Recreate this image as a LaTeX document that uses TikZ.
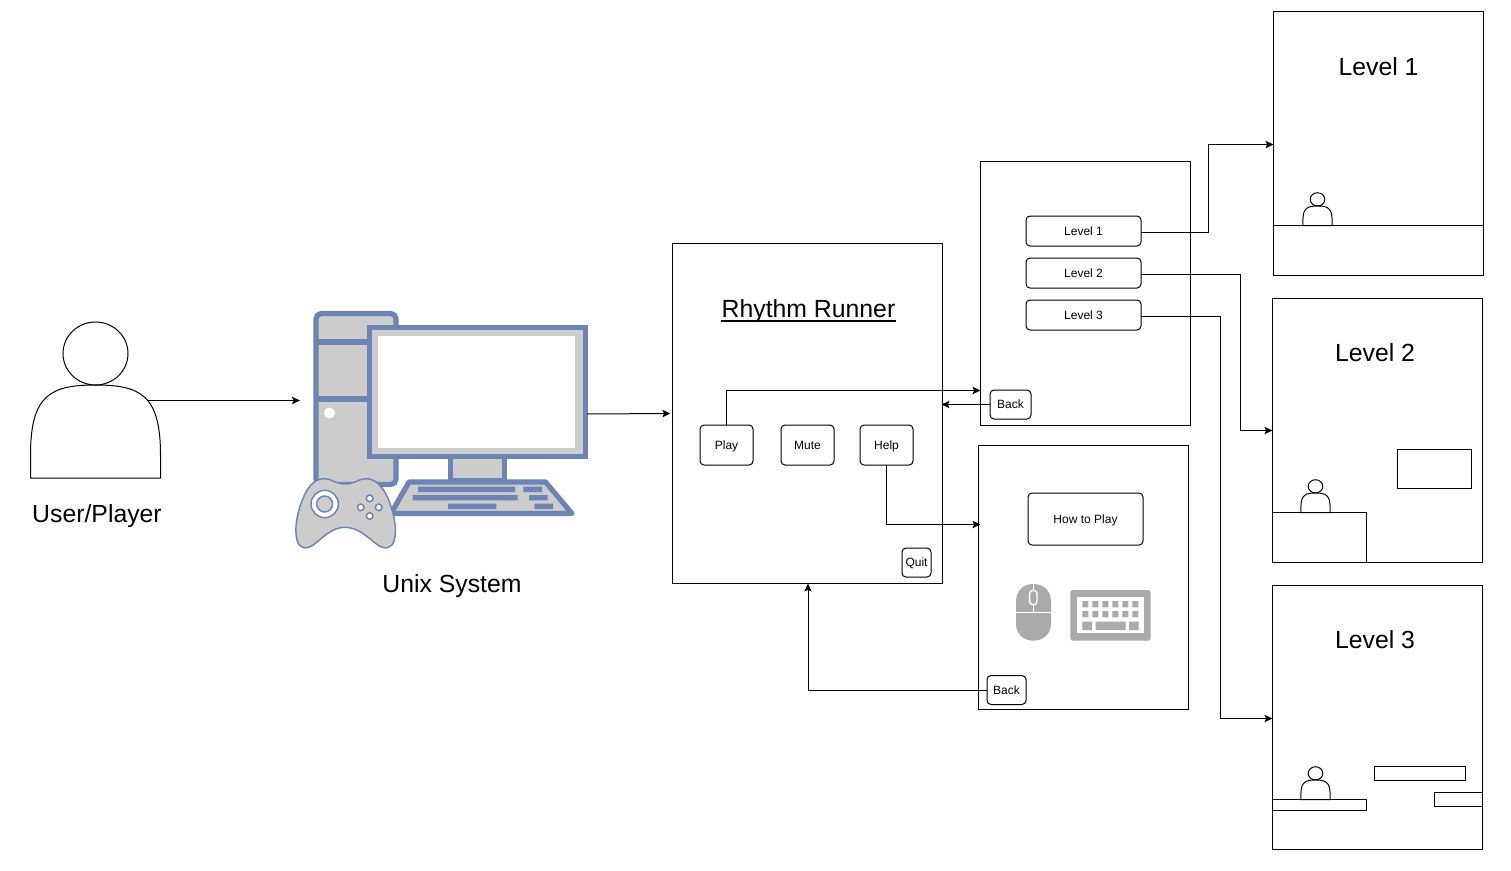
\documentclass[tikz,border=0pt]{standalone}
\usepackage{fontspec}
\setmainfont{Liberation Sans}
\usetikzlibrary{arrows.meta,calc}
\definecolor{iconblue}{HTML}{6C85B5}
\definecolor{iconfill}{HTML}{CCCCCC}
\definecolor{icongray}{HTML}{AAAAAA}
\newcommand{\boxat}[6][panel]{\node[#1,minimum width=#4*0.75pt-0.75pt,minimum height=#5*0.75pt-0.75pt] (#2) at (#3) {#6};}
\newcommand{\playerfig}[4]{%
  \begin{scope}[shift={(#1,#2)},x=#3*0.75pt,y=-#4*0.75pt]
    \draw[line] (-65,0) -- (-65,-23) .. controls (-65,-83) and (-45,-93) .. (0,-93)
      .. controls (45,-93) and (65,-83) .. (65,-23) -- (65,0) -- cycle;
    \draw[line] (0,-124.5) ellipse [x radius=32.5,y radius=31.5];
  \end{scope}}
\tikzset{
  x=0.75pt,y=-0.75pt,
  line/.style={draw=black,line width=0.75pt},
  panel/.style={line,fill=white,inner sep=0pt,outer sep=0pt,rectangle},
  btn/.style={panel,rounded corners=3pt,font=\fontsize{9}{11}\selectfont,text height=6.5pt,text depth=0pt},
  big/.style={font=\fontsize{18.6}{22}\selectfont,inner sep=0pt},
  conn/.style={line,-{Stealth[length=6pt,width=5.5pt,inset=1.2pt]}},
  iconline/.style={draw=iconblue,line width=3.9pt,fill=iconfill},
  iconkey/.style={fill=iconblue},
  graykey/.style={fill=icongray},
}
\begin{document}
\begin{tikzpicture}
\useasboundingbox[fill=white] (0,0) rectangle (1511,871);

% user
\playerfig{95.5}{478}{1}{1}
\coordinate (userarm) at (148,400.5);
\node[big] (userlabel) at (97,516) {User/Player};

% computer
\draw[iconline,rounded corners=4pt] (316,313.5) rectangle (396,484.5);
\draw[draw=iconblue,line width=3.9pt] (316,342) -- (370,342) (316,399) -- (370,399);
\fill[white] (329.5,413) circle [radius=5.5];
\draw[iconline] (450.5,456) rectangle (504.5,481);
\draw[iconline,line join=round] (409,482) -- (545.5,482) -- (572,513.5) -- (391,513.5) -- cycle;
\draw[iconline] (369.5,327.5) rectangle (585.5,456.5);
\fill[white] (377.5,336) rectangle (575,447.5);
\begin{scope}[shift={(285,300)},x=0.25pt,y=-0.25pt]
  \fill[iconkey] (399,560) rectangle (690,576) (715,560) rectangle (771,576)
    (383,585) rectangle (698,601) (732,585) rectangle (788,601)
    (489,611) rectangle (634,627) (748,611) rectangle (804,627);
  \draw[draw=iconblue,line width=1.1pt,fill=iconfill] (180,552)
    .. controls (150,552) and (140,536) .. (118,536)
    .. controls (85,536) and (65,565) .. (50,605)
    .. controls (35,645) and (28,690) .. (36,720)
    .. controls (42,745) and (62,750) .. (85,735)
    .. controls (115,712) and (140,682) .. (180,682)
    .. controls (220,682) and (248,712) .. (278,735)
    .. controls (300,750) and (322,745) .. (328,720)
    .. controls (336,690) and (328,645) .. (313,605)
    .. controls (298,565) and (275,536) .. (242,536)
    .. controls (220,536) and (210,552) .. (180,552) -- cycle;
  \draw[draw=iconblue,line width=1.1pt,fill=white] (119,612) circle [radius=41];
  \draw[draw=iconblue,line width=1.1pt,fill=iconfill] (119,612) circle [radius=24];
  \foreach \cx/\cy in {254/595,227/622,281/622,254/648}
    \draw[draw=iconblue,line width=1.1pt,fill=white] (\cx,\cy) circle [radius=10];
\end{scope}
\coordinate (monitorright) at (587,414);
\coordinate (computerin) at (300,400.5);
\node[big] (unixlabel) at (452,586) {Unix System};

% main menu
\boxat{main}{807.5,413.5}{271}{341}{}
\node[big] (title) at (808.5,311) {Rhythm Runner};
\draw[line,line width=0.9pt] (title.west |- 0,321) -- (title.east |- 0,321);
\boxat[btn]{play}{726.5,445}{54}{41}{Play}
\boxat[btn]{mute}{807.5,445}{54}{41}{Mute}
\boxat[btn]{help}{886.5,445}{54}{41}{Help}
\boxat[btn]{quit}{916.5,562.5}{30}{30}{Quit}

% level menu
\boxat{levels}{1085.5,293.5}{211}{265}{}
\boxat[btn]{btnone}{1083.5,231}{116}{31}{Level 1}
\boxat[btn]{btntwo}{1083.5,273}{116}{31}{Level 2}
\boxat[btn]{btnthree}{1083.5,315}{116}{31}{Level 3}
\boxat[btn]{backa}{1010.5,404.5}{42}{30}{Back}

% how to play
\boxat{howto}{1083.5,577.5}{211}{265}{}
\boxat[btn]{howbtn}{1085.5,519}{116}{53}{How to Play}
\boxat[btn]{backb}{1006.5,690}{40}{30}{Back}
\begin{scope}[shift={(1000,570)},x=0.25pt,y=-0.25pt]
  \fill[icongray] (48,96) .. controls (48,62) and (70,42) .. (100,42)
    .. controls (130,42) and (153,62) .. (153,96) -- (153,160)
    .. controls (153,192) and (130,212) .. (100,212)
    .. controls (70,212) and (48,192) .. (48,160) -- cycle;
  \draw[white,line width=1.1pt] (48,128) -- (153,128) (100,42) -- (100,62) (100,103) -- (100,128);
  \draw[white,line width=1.1pt,fill=icongray,rounded corners=2.5pt] (89,61) rectangle (111,104);
  \fill[icongray,rounded corners=2pt] (211,60) rectangle (452,212);
  \fill[white] (231,80) rectangle (432,190);
  \foreach \kx in {247,277,307,337,367,397}
    \fill[graykey] (\kx,93) rectangle ++(18,19) (\kx,123) rectangle ++(18,19);
  \fill[graykey] (247,155) rectangle (276,180) (287,155) rectangle (377,180) (387,155) rectangle (416,180);
\end{scope}

% level 1
\boxat{lone}{1378.5,143.5}{211}{265}{}
\node[big] (lonetitle) at (1378.5,67) {Level 1};
\coordinate (loneg) at (1273,225.5);
\draw[line] (loneg) -- (lone.east |- loneg);
\playerfig{1317.5}{225.5}{0.225}{0.21}

% level 2
\boxat{ltwo}{1377.5,430.5}{211}{265}{}
\node[big] (ltwotitle) at (1375,353) {Level 2};
\boxat{ltwog}{1319.5,537.5}{95}{51}{}
\boxat{ltwop}{1434.5,469}{75}{40}{}
\playerfig{1315.5}{512.5}{0.225}{0.21}

% level 3
\boxat{lthree}{1377.5,717.5}{211}{265}{}
\node[big] (lthreetitle) at (1375,640) {Level 3};
\boxat{lthreea}{1319.5,805}{95}{12}{}
\boxat{lthreeb}{1420,773}{92}{15}{}
\boxat{lthreec}{1458.5,799.5}{49}{15}{}
\playerfig{1315.5}{799.5}{0.225}{0.21}

% connectors
\draw[conn] (userarm) -- (computerin);
\draw[conn] (monitorright) -- ($(main.west)+(-2,0)$);
\coordinate (levelsin) at (levels.west |- 0,390.5);
\coordinate (howin) at ($(howto.west |- 0,524.5)+(2,0)$);
\draw[conn] (play.north) |- (levelsin);
\draw[conn] (help.south) |- (howin);
\draw[conn] (backa.west) -- ($(main.east |- backa.west)+(-1,0)$);
\coordinate (maindrop) at ($(main.south)+(0.5,0)$);
\draw[conn] (backb.west) -| (maindrop);
\coordinate (loneturn) at (1208.5,144.5);
\coordinate (ltwoturn) at (1240.5,430.5);
\coordinate (lthreeturn) at (1220.5,718.5);
\draw[conn] (btnone.east |- 0,232.5) -| (loneturn) -- (lone.west |- loneturn);
\draw[conn] (btntwo.east |- 0,274.5) -| (ltwoturn) -- (ltwo.west |- ltwoturn);
\draw[conn] (btnthree.east |- 0,316.5) -| (lthreeturn) -- (lthree.west |- lthreeturn);
\end{tikzpicture}
\end{document}
